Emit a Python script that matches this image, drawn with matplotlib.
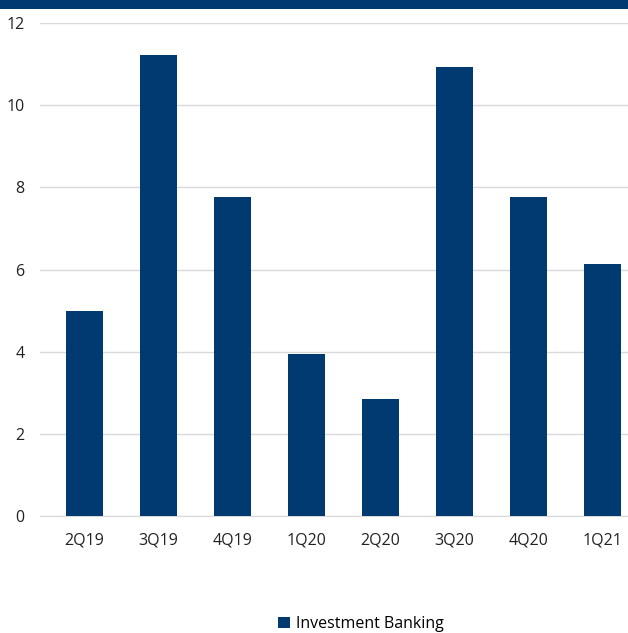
import matplotlib
matplotlib.use("Agg")
from matplotlib import pyplot as plt
from matplotlib.patches import Rectangle

quarters = ["2Q19", "3Q19", "4Q19", "1Q20", "2Q20", "3Q20", "4Q20", "1Q21"]
investment_banking = [5.0, 11.22, 7.77, 3.94, 2.85, 10.93, 7.77, 6.13]
y_ticks = [0, 2, 4, 6, 8, 10, 12]

NAVY = "#003A70"

plt.rcParams["font.family"] = ["Open Sans", "DejaVu Sans"]

fig = plt.figure(figsize=(6.28, 6.33), dpi=100)
# (left, bottom, width, height) in figure fractions
ax = fig.add_axes((40 / 628, 1 - 516 / 633, 1 - 40 / 628, 493 / 633))

# dark band along the top edge
fig.patches.append(Rectangle((0, 1 - 9 / 633), 1, 9 / 633, transform=fig.transFigure,
                             facecolor=NAVY, edgecolor="none"))

xs = range(len(quarters))
ax.bar(xs, investment_banking, width=0.5, color=NAVY, label="Investment Banking", zorder=3)

ax.set_xlim(-0.6, 7.345)
ax.set_ylim(0, 12)
ax.set_yticks(y_ticks)
ax.set_xticks(list(xs))
ax.set_xticklabels(quarters)
ax.yaxis.grid(True, color="#D9D9D9", linewidth=1, zorder=0)
ax.tick_params(axis="both", length=0, labelsize=11.5, colors="#222222")
ax.tick_params(axis="x", pad=12)
ax.tick_params(axis="y", pad=11)
for side in ("top", "right", "left"):
    ax.spines[side].set_visible(False)
ax.spines["bottom"].set_color("#D9D9D9")

fig.legend(loc="center", bbox_to_anchor=(0.575, 1 - 624 / 633), frameon=False,
           fontsize=11.5, handlelength=0.7, handleheight=0.7, handletextpad=0.4)

fig.savefig("out.png", dpi=100)
